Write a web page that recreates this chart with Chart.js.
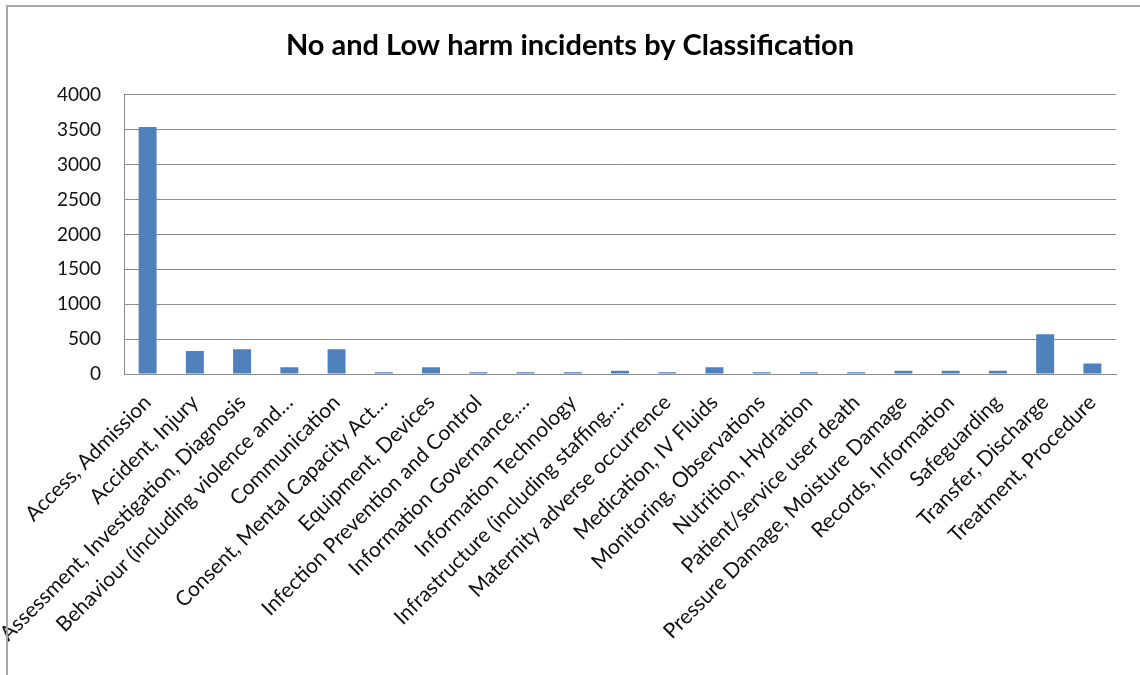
<!DOCTYPE html>
<html>
<head>
<meta charset="utf-8">
<script src="https://cdn.jsdelivr.net/npm/chart.js@4/dist/chart.umd.min.js"></script>
<style>
  html, body { margin: 0; padding: 0; background: #fff; }
  #wrap { position: relative; width: 1140px; height: 675px; }
  #frame { position: absolute; left: 6px; top: 5px; right: 0; bottom: 0; border-left: 2px solid #a6a6a6; border-top: 2px solid #a6a6a6; pointer-events: none; }
  canvas { position: absolute; left: 0; top: 0; }
</style>
</head>
<body>
<div id="wrap">
  <canvas id="c" width="1140" height="675"></canvas>
  <div id="frame"></div>
</div>
<script>
const chartTitle = "No and Low harm incidents by Classification";
const categories = [
  "Access, Admission",
  "Accident, Injury",
  "Assessment, Investigation, Diagnosis",
  "Behaviour (including violence and…",
  "Communication",
  "Consent, Mental Capacity Act…",
  "Equipment, Devices",
  "Infection Prevention and Control",
  "Information Governance,…",
  "Information Technology",
  "Infrastructure (including staffing,…",
  "Maternity adverse occurrence",
  "Medication, IV Fluids",
  "Monitoring, Observations",
  "Nutrition, Hydration",
  "Patient/service user death",
  "Pressure Damage, Moisture Damage",
  "Records, Information",
  "Safeguarding",
  "Transfer, Discharge",
  "Treatment, Procedure"
];
const incidents = [3540, 330, 355, 95, 355, 25, 95, 25, 25, 25, 45, 25, 95, 25, 25, 25, 45, 45, 45, 570, 150];
const yTicks = [0, 500, 1000, 1500, 2000, 2500, 3000, 3500, 4000];

const FONT = "Lato, 'Open Sans', sans-serif";

new Chart(document.getElementById('c'), {
  type: 'bar',
  data: {
    labels: categories,
    datasets: [{
      label: 'Incidents',
      data: incidents,
      backgroundColor: '#4F81BD',
      borderWidth: 0,
      categoryPercentage: 1.0,
      barPercentage: 0.38
    }]
  },
  options: {
    responsive: false,
    animation: false,
    devicePixelRatio: 1,
    layout: { padding: { left: 24, right: 24, top: 0, bottom: 0 } },
    plugins: {
      legend: { display: false },
      tooltip: { enabled: false },
      title: {
        display: true,
        text: chartTitle,
        color: '#000',
        font: { family: FONT, size: 29, weight: 'bold', lineHeight: 1.2 },
        padding: { top: 28, bottom: 32 }
      }
    },
    scales: {
      x: {
        grid: { display: false, drawTicks: false },
        border: { display: true, color: '#8c8c8c', width: 1 },
        ticks: {
          color: '#111',
          font: { family: FONT, size: 21 },
          minRotation: 45,
          maxRotation: 45,
          autoSkip: false,
          padding: 16
        },
        afterFit: (s) => { s.height = 301; s.paddingLeft = 0; s.paddingRight = 0; }
      },
      y: {
        min: 0,
        max: 4000,
        afterBuildTicks: (s) => { s.ticks = yTicks.map(v => ({ value: v })); },
        grid: { color: '#8c8c8c', lineWidth: 1, drawTicks: false },
        border: { display: true, color: '#8c8c8c', width: 1 },
        ticks: {
          color: '#111',
          font: { family: FONT, size: 19 },
          padding: 23,
          callback: (v) => String(v)
        },
        afterFit: (s) => { s.width = 100; s.paddingTop = 0; s.paddingBottom = 0; }
      }
    }
  }
});
</script>
</body>
</html>
